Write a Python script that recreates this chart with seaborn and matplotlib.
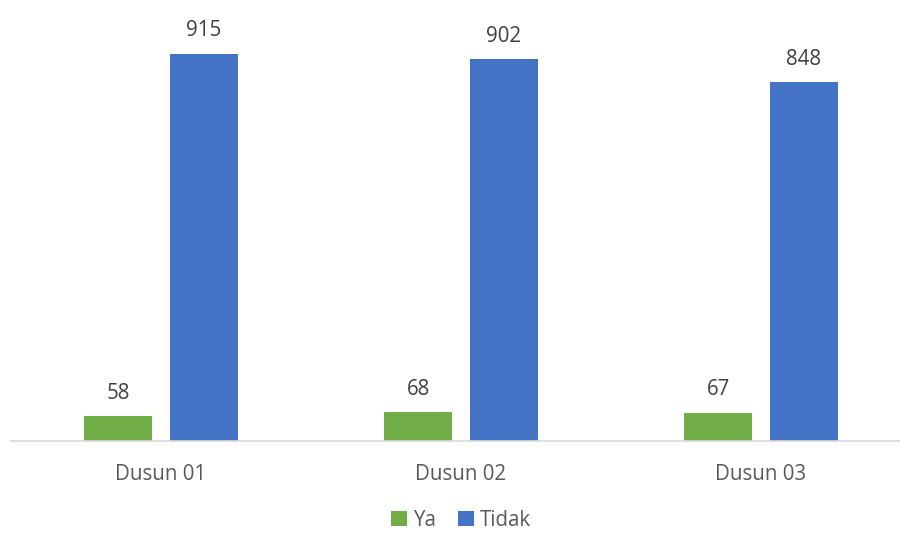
import pandas as pd
import seaborn as sns
import matplotlib.pyplot as plt

dusun = ['Dusun 01', 'Dusun 02', 'Dusun 03']
ya = [58, 68, 67]
tidak = [915, 902, 848]

df = pd.DataFrame({
    'dusun': dusun * 2,
    'jawaban': ['Ya'] * 3 + ['Tidak'] * 3,
    'jumlah': ya + tidak,
})

sns.set_style('white')
plt.rcParams['font.family'] = ['Open Sans', 'DejaVu Sans']

fig = plt.figure(figsize=(9, 5.33), dpi=100)
ax = fig.add_axes([11 / 900, 92 / 533, 889 / 900, 431 / 533])

sns.barplot(data=df, x='dusun', y='jumlah', hue='jawaban',
            palette=['#70AD47', '#4472C4'], width=0.57, gap=0.21,
            saturation=1, linewidth=0, ax=ax)

for cont in ax.containers:
    ax.bar_label(cont, padding=9, fontsize=14.8, color='#404040')

ax.set_xlim(-0.5, 2.5 - 11 / 300)
ax.set_ylim(0, 1019)
ax.set_xlabel('')
ax.set_ylabel('')
ax.set_yticks([])
ax.tick_params(axis='x', length=0, pad=16.5, labelsize=14.8, labelcolor='#595959')
for s in ['top', 'right', 'left']:
    ax.spines[s].set_visible(False)
ax.spines['bottom'].set_color('#D9D9D9')
ax.spines['bottom'].set_linewidth(1.2)

handles, labels = ax.get_legend_handles_labels()
ax.legend_.remove()
fig.legend(handles, labels, loc='center', bbox_to_anchor=(461 / 900, 1 - 520 / 533),
           ncol=2, frameon=False, fontsize=14.8, labelcolor='#595959',
           borderaxespad=0, borderpad=0.2,
           handlelength=0.75, handleheight=0.75, handletextpad=0.3, columnspacing=1.1)

fig.savefig('out.png', dpi=100)
